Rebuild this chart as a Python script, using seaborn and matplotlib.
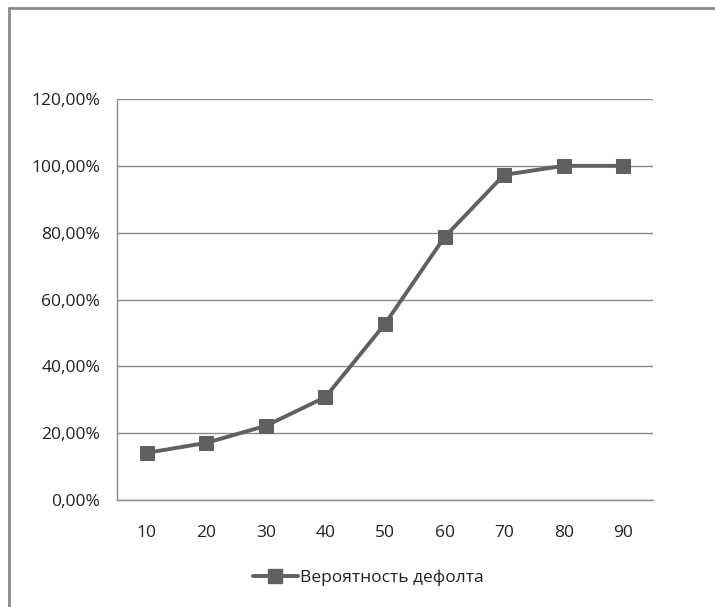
import matplotlib
matplotlib.use("Agg")
import matplotlib.pyplot as plt
import seaborn as sns
import pandas as pd
import numpy as np
from matplotlib.ticker import FuncFormatter
from matplotlib.lines import Line2D

# data
categories = ["10", "20", "30", "40", "50", "60", "70", "80", "90"]
default_prob = [0.141, 0.171, 0.222, 0.308, 0.527, 0.787, 0.973, 1.0, 1.0]
series_name = "Вероятность дефолта"

df = pd.DataFrame({"x": categories, "y": default_prob})

sns.set_style("white")
plt.rcParams["font.family"] = ["Open Sans", "DejaVu Sans"]

fig = plt.figure(figsize=(7.15, 6.07), dpi=100)
ax = fig.add_axes([117 / 715, 107 / 607, 536 / 715, 401 / 607])

line_color = "#606060"
sns.lineplot(data=df, x="x", y="y", ax=ax, color=line_color, linewidth=2.8,
             marker="s", markersize=10.5, markeredgecolor=line_color, sort=False)

ax.set_xlim(-0.5, len(categories) - 0.5)
ax.set_ylim(0, 1.2)
ax.set_yticks(np.arange(0, 1.21, 0.2))
ax.yaxis.set_major_formatter(FuncFormatter(lambda v, p: f"{v * 100:.2f}%".replace(".", ",")))

# category labels in the middle, tick marks on the boundaries
ax.set_xticks(range(len(categories)))
ax.set_xticklabels(categories)
ax.set_xticks(np.arange(-0.5, len(categories)), minor=True)
ax.tick_params(axis="x", which="major", length=0, pad=18, labelsize=12.5, labelcolor="#222222")
ax.tick_params(axis="x", which="minor", length=5, color="#888888", width=1)
ax.tick_params(axis="y", length=5, color="#888888", width=1, pad=7, labelsize=12.5, labelcolor="#222222")

ax.grid(axis="y", color="#8c8c8c", linewidth=1)
ax.set_axisbelow(True)
for side in ["top", "right"]:
    ax.spines[side].set_visible(False)
for side in ["left", "bottom"]:
    ax.spines[side].set_color("#8c8c8c")
    ax.spines[side].set_linewidth(1)
ax.set_xlabel("")
ax.set_ylabel("")

handle = Line2D([], [], color=line_color, linewidth=2.8, marker="s", markersize=10.5)
fig.legend([handle], [series_name], loc="center", bbox_to_anchor=(368 / 715, 1 - 578 / 607),
           frameon=False, fontsize=12.5, handlelength=2.6, handletextpad=0.1)
for t in fig.legends[0].get_texts():
    t.set_color("#222222")

# outer frame (only top and left visible in the reference)
fig.add_artist(Line2D([8.5 / 715, 8.5 / 715], [0, 1 - 7.5 / 607], color="#8a8a8a", linewidth=2,
                      transform=fig.transFigure))
fig.add_artist(Line2D([8.5 / 715, 1], [1 - 7.5 / 607, 1 - 7.5 / 607], color="#8a8a8a", linewidth=2,
                      transform=fig.transFigure))

fig.savefig("out.png", dpi=100)
